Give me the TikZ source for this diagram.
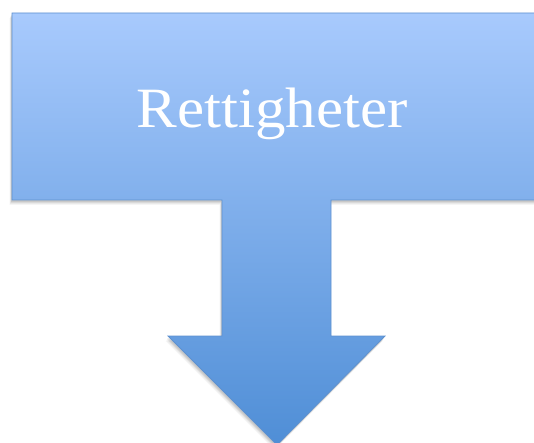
\documentclass[tikz,border=0pt]{standalone}
\usepackage{fontspec}
\setmainfont{Liberation Serif}
\usepackage{tikz}
\usetikzlibrary{shadows}
\definecolor{toplight}{HTML}{A8CAFD}
\definecolor{botdark}{HTML}{4F8ED6}
\definecolor{edgeblue}{HTML}{5E91CF}

\tikzset{arrowbody/.style={draw=edgeblue, line width=0.8pt, top color=toplight, bottom color=botdark, line join=miter},
shadowlayer/.style={fill=black, draw=none}}

\begin{document}
\begin{tikzpicture}[x=1pt,y=-1pt]
\useasboundingbox (0,0) rectangle (534,443);

% soft shadow
\foreach \d/\o in {5/0.04, 4/0.05, 3/0.07, 2/0.08}
\fill[shadowlayer, opacity=\o, shift={(-0.5*\d pt,-\d pt)}] (12,13) -- (540,13) -- (540,200) -- (331,200) -- (331,336) -- (385,336) -- (277,445) -- (168,336) -- (222,336) -- (222,200) -- (12,200) -- cycle;

\draw[arrowbody] (12,13) -- (540,13) -- (540,200) -- (331,200) -- (331,336) -- (385,336) -- (277,445) -- (168,336) -- (222,336) -- (222,200) -- (12,200) -- cycle;

\node[text=white, anchor=base, inner sep=0pt, xscale=1.07, font=\fontsize{57}{60}\selectfont] (title) at (272,128) {Rettigheter};

\end{tikzpicture}
\end{document}
